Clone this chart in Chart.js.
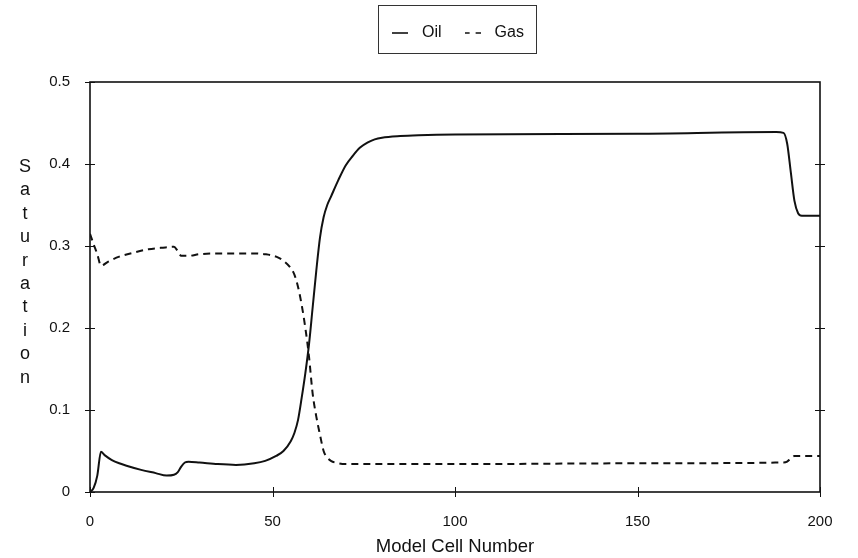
<!DOCTYPE html>
<html>
<head>
<meta charset="utf-8">
<script src="https://cdn.jsdelivr.net/npm/chart.js@4"></script>
<style>
html,body{margin:0;padding:0;background:#fff;}
#wrap{width:858px;height:558px;}
</style>
</head>
<body>
<div id="wrap"><canvas id="c" width="858" height="558"></canvas></div>
<script>
// ---- data ----
const oilCells = [0,1,2,3,4,6,8,10,14,18,21,23,24,25,26,27,30,35,40,45,48,51,53,55,56,57,58,59,60,61,62,63,64,65,66,68,70,72,74,76,78,80,85,90,100,150,188,190,191,192,193,194,195,200];
const oilSat   = [0,0.005,0.02,0.049,0.045,0.039,0.035,0.032,0.027,0.023,0.02,0.021,0.024,0.031,0.036,0.037,0.036,0.034,0.033,0.035,0.038,0.044,0.05,0.062,0.072,0.088,0.115,0.145,0.18,0.225,0.27,0.31,0.335,0.35,0.36,0.38,0.398,0.41,0.42,0.426,0.43,0.432,0.434,0.435,0.436,0.437,0.439,0.438,0.425,0.39,0.355,0.34,0.337,0.337];
const gasCells = [0,1,2,3,5,8,12,16,20,23,24,25,27,30,35,40,45,48,51,53,55,56,57,58,59,60,61,62,63,64,65,66,68,70,80,100,150,190,191,192,193,200];
const gasSat   = [0.315,0.302,0.29,0.276,0.281,0.287,0.292,0.296,0.298,0.299,0.294,0.288,0.288,0.29,0.291,0.291,0.291,0.29,0.287,0.282,0.273,0.265,0.25,0.228,0.2,0.165,0.12,0.092,0.07,0.05,0.042,0.038,0.035,0.034,0.034,0.034,0.035,0.036,0.037,0.041,0.044,0.044];
const seriesNames = ['Oil','Gas'];
const yTickValues = [0,0.1,0.2,0.3,0.4,0.5];
const xTickValues = [0,50,100,150,200];
const xTitle = 'Model Cell Number';
const yTitle = 'Saturation';

const FONT = '"Liberation Sans", Arial, Helvetica, sans-serif';
const INK = '#111';
const target = {left:90, right:820, top:82, bottom:492};
let topGap = 24;

function pts(xs, ys){ return xs.map((x,i)=>({x:x, y:ys[i]})); }
function legendLine(dash){
  const c = document.createElement('canvas');
  c.width = 16; c.height = 4;
  const g = c.getContext('2d');
  g.strokeStyle = INK; g.lineWidth = 1.6; g.setLineDash(dash);
  g.beginPath(); g.moveTo(0,2); g.lineTo(16,2); g.stroke();
  return c;
}

const framePlugin = {
  id:'frame',
  beforeDatasetsDraw(chart){
    const {ctx, chartArea:a, scales:{x, y}} = chart;
    ctx.save();
    ctx.strokeStyle = INK;
    ctx.lineWidth = 1.6;
    ctx.strokeRect(a.left, a.top, a.right-a.left, a.bottom-a.top);
    ctx.lineWidth = 1;
    ctx.beginPath();
    yTickValues.forEach(v=>{
      const py = Math.round(y.getPixelForValue(v))+0.5;
      ctx.moveTo(a.left-5, py); ctx.lineTo(a.left+5, py);
      if(v>0 && v<0.5){ ctx.moveTo(a.right-5, py); ctx.lineTo(a.right+5, py); }
    });
    xTickValues.forEach(v=>{
      const px = Math.round(x.getPixelForValue(v))+0.5;
      ctx.moveTo(px, a.bottom-5); ctx.lineTo(px, a.bottom+5);
    });
    ctx.stroke();
    ctx.restore();
  },
  afterDraw(chart){
    const {ctx, chartArea:a} = chart;
    ctx.save();
    ctx.fillStyle = INK;
    ctx.font = '18px ' + FONT;
    ctx.textAlign = 'center';
    ctx.textBaseline = 'middle';
    const step = 23.4;
    const y0 = a.top + 85;
    yTitle.split('').forEach((ch,i)=>ctx.fillText(ch, 25, y0 + i*step));
    const lg = chart.legend;
    if(lg && lg.legendHitBoxes && lg.legendHitBoxes.length){
      let l=Infinity, r=-Infinity, t=Infinity, b=-Infinity;
      lg.legendHitBoxes.forEach(h=>{l=Math.min(l,h.left); r=Math.max(r,h.left+h.width); t=Math.min(t,h.top); b=Math.max(b,h.top+h.height);});
      const cy = (t+b)/2;
      ctx.strokeStyle = '#333';
      ctx.lineWidth = 1;
      ctx.strokeRect(Math.round(l-8)+0.5, Math.round(cy-28)+0.5, Math.round(r-l+20), 48);
    }
    ctx.restore();
  }
};

const chart = new Chart(document.getElementById('c'), {
  type:'line',
  data:{
    datasets:[
      {label:seriesNames[0], data:pts(oilCells, oilSat), borderColor:INK, backgroundColor:INK, borderWidth:2, pointRadius:0, pointStyle:legendLine([]), cubicInterpolationMode:'monotone', fill:false},
      {label:seriesNames[1], data:pts(gasCells, gasSat), borderColor:INK, backgroundColor:INK, borderWidth:2, borderDash:[7,5], pointRadius:0, pointStyle:legendLine([5,6]), cubicInterpolationMode:'monotone', fill:false}
    ]
  },
  options:{
    responsive:false,
    animation:false,
    devicePixelRatio:1,
    layout:{padding:{left:0, right:38, top:8, bottom:0}},
    plugins:{
      tooltip:{enabled:false},
      legend:{
        display:true,
        position:'top',
        fullSize:false,
        labels:{
          color:INK,
          font:{family:FONT, size:16},
          usePointStyle:true,
          pointStyleWidth:28,
          boxHeight:16,
          padding:17
        }
      }
    },
    scales:{
      x:{
        type:'linear', min:0, max:200,
        grid:{display:false, drawTicks:false},
        border:{display:false},
        afterBuildTicks(s){ s.ticks = xTickValues.map(v=>({value:v})); },
        afterFit(s){ s.height = 558 - target.bottom; },
        ticks:{color:INK, font:{family:FONT, size:15}, padding:21, maxRotation:0, autoSkip:false},
        title:{display:true, text:xTitle, color:INK, font:{family:FONT, size:18.5}, padding:{top:0, bottom:0}}
      },
      xTop:{
        type:'linear', position:'top', min:0, max:200, display:true,
        grid:{display:false, drawTicks:false},
        border:{display:false},
        ticks:{display:false},
        afterFit(s){ s.height = topGap; }
      },
      y:{
        type:'linear', min:0, max:0.5,
        grid:{display:false, drawTicks:false},
        border:{display:false},
        afterBuildTicks(s){ s.ticks = yTickValues.map(v=>({value:v})); },
        afterFit(s){ s.width = target.left; },
        ticks:{color:INK, font:{family:FONT, size:15}, padding:20, callback:v=>String(Math.round(v*10)/10)}
      }
    }
  },
  plugins:[framePlugin]
});

// fit the plot area to the reference frame
for(let k=0;k<2;k++){
  const a = chart.chartArea;
  topGap = Math.max(0, topGap + target.top - a.top);
  chart.options.layout.padding.right += a.right - target.right;
  chart.update();
}
</script>
</body>
</html>
